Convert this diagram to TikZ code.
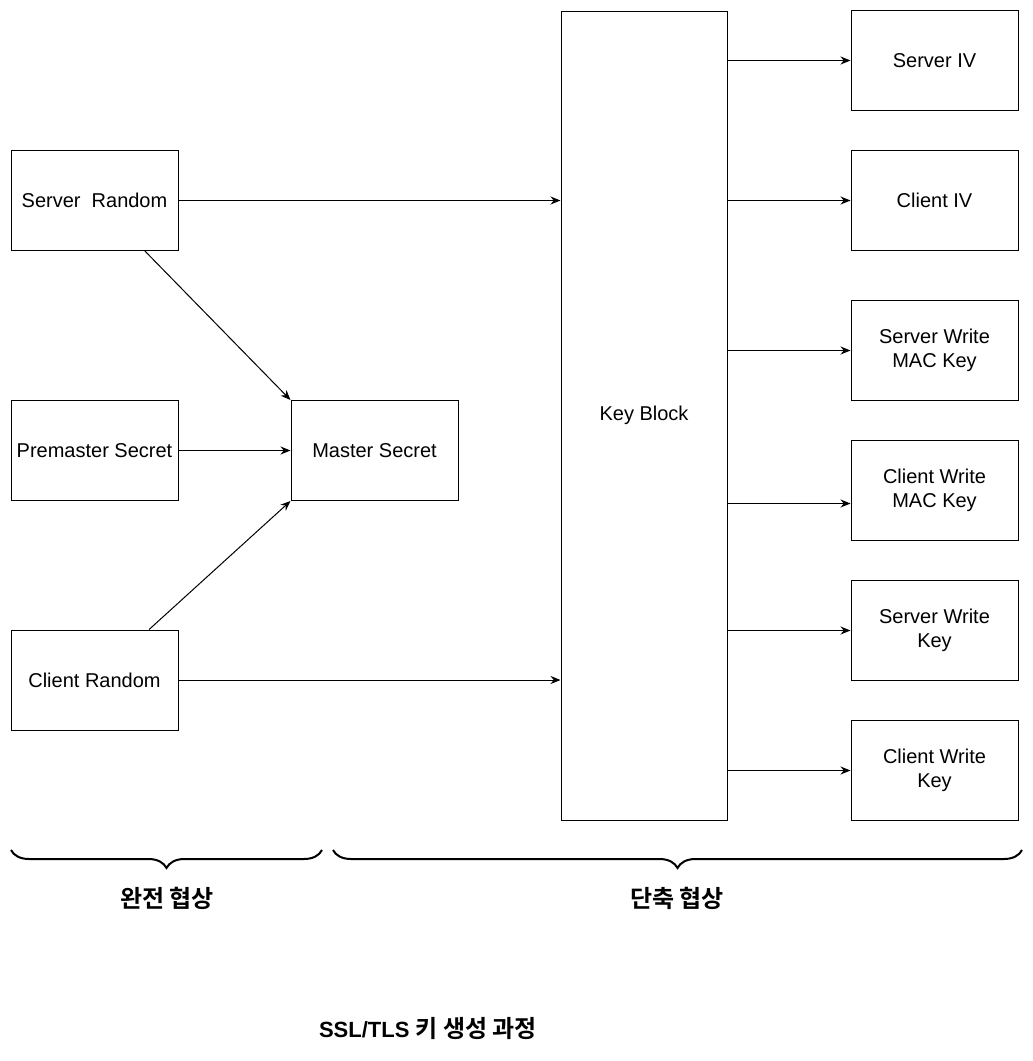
\documentclass[tikz,border=0pt]{standalone}
\usepackage{fontspec}
\setmainfont{Liberation Sans}
\newfontfamily\kr{Noto Sans CJK KR}[BoldFont={Noto Sans CJK KR Bold}]
\usetikzlibrary{decorations.pathreplacing,arrows.meta,calc}

\begin{document}
\begin{tikzpicture}[x=1pt,y=-1pt,>={Stealth[length=10pt,width=8pt]},
  box/.style={draw,line width=1pt,minimum width=167pt,minimum height=100pt,inner sep=0pt,
    align=center,font=\fontsize{20}{24}\selectfont},
  link/.style={->,line width=1pt},
  brc/.style={decorate,decoration={brace,mirror,amplitude=18pt},line width=2pt},
  lbl/.style={font=\fontsize{24}{28}\selectfont\bfseries}]
\useasboundingbox (0,0) rectangle (1033,1061);
% inputs
\node[box] (srvrnd) at (94.5,200.5) {Server\ \ Random};
\node[box] (premaster) at (94.5,450.5) {Premaster Secret};
\node[box] (clirnd) at (94.5,680) {Client Random};
\node[box] (master) at (374.5,450.5) {Master Secret};
\node[box,minimum width=166pt,minimum height=809pt] (keyblock) at (644,415.5) {Key Block};
% outputs
\node[box] (srviv) at (934.5,60.5) {Server IV};
\node[box] (cliiv) at (934.5,200.5) {Client IV};
\node[box] (srvmac) at (934.5,350.5) {Server Write\\MAC Key};
\node[box] (climac) at (934.5,490.5) {Client Write\\MAC Key};
\node[box] (srvkey) at (934.5,630.5) {Server Write\\Key};
\node[box] (clikey) at (934.5,770.5) {Client Write\\Key};
% connectors
\draw[link] (srvrnd.east) -- (srvrnd.east -| keyblock.west);
\draw[link] ($(srvrnd.south)!0.6!(srvrnd.south east)$) -- (master.north west);
\draw[link] (premaster) -- (master);
\draw[link] ($(clirnd.north)!0.65!(clirnd.north east)$) -- (master.south west);
\draw[link] (clirnd.east) -- (clirnd.east -| keyblock.west);
\foreach \k in {srviv,cliiv,srvmac,srvkey,clikey}
  \draw[link] (keyblock.east |- \k.west) -- (\k.west);
\draw[link] ($(keyblock.east |- climac.west)+(0,13)$) -- ($(climac.west)+(0,13)$);
% braces
\draw[brc] (11,850) -- (322,850);
\draw[brc] (333,850) -- (1022,850);
\node[lbl] (full) at (167,898) {\kr 완전 협상};
\node[lbl] (abbr) at (677,898) {\kr 단축 협상};
\node[lbl] (title) at (428,1029) {\fontsize{22}{26}\selectfont SSL/TLS {\kr\fontsize{24}{28}\selectfont 키 생성 과정}};
\end{tikzpicture}
\end{document}
